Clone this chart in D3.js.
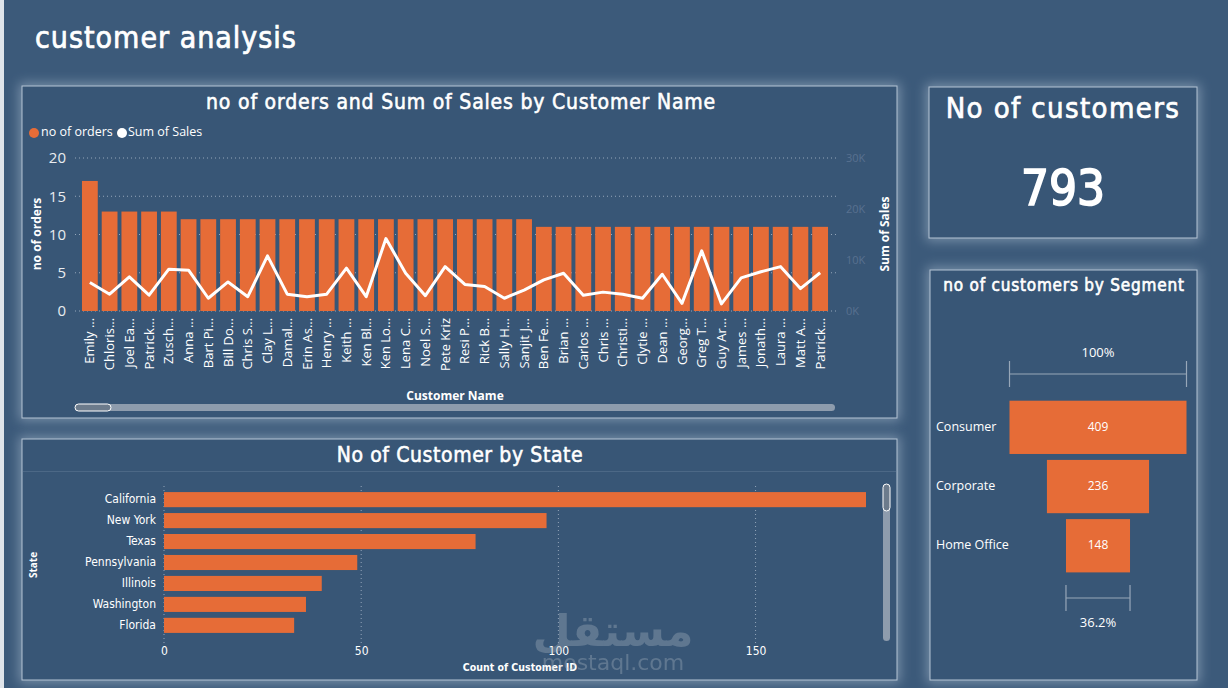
<!DOCTYPE html>
<meta charset="utf-8">
<script src="https://d3js.org/d3.v7.min.js"></script>
<style>
  body { margin: 0; background: #3c5a7a; overflow: hidden; }
</style>
<div id="dashboard"></div>
<script>
// ---- data ----
var customerNames = ["Emily …", "Chloris…", "Joel Ea…", "Patrick…", "Zusch…", "Anna …", "Bart Pi…", "Bill Do…",
  "Chris S…", "Clay L…", "Damal…", "Erin As…", "Henry …", "Keith …", "Ken Bl…", "Ken Lo…", "Lena C…", "Noel S…",
  "Pete Kriz", "Resi P…", "Rick B…", "Sally H…", "Sanjit J…", "Ben Fe…", "Brian …", "Carlos …", "Chris …",
  "Christi…", "Clytie …", "Dean …", "Georg…", "Greg T…", "Guy Ar…", "James …", "Jonath…", "Laura …", "Matt A…", "Patrick…"]
var noOfOrders = [17, 13, 13, 13, 13, 12, 12, 12, 12, 12, 12, 12, 12, 12, 12, 12, 12, 12, 12, 12, 12, 12, 12,
  11, 11, 11, 11, 11, 11, 11, 11, 11, 11, 11, 11, 11, 11, 11]
var sumOfSales = [5600, 3300, 6700, 3100, 8200, 8000, 2500, 5700, 2800, 10800, 3300, 2800, 3300, 8400, 2800, 14200,
  7400, 3000, 8700, 5200, 4800, 2500, 4100, 6100, 7400, 3100, 3700, 3300, 2500, 7200, 1500, 11800, 1400, 6500,
  7700, 8700, 4400, 7500]
var ordersTicks = [0, 5, 10, 15, 20]
var salesTicks = [0, 10000, 20000, 30000]

var states = ["California", "New York", "Texas", "Pennsylvania", "Illinois", "Washington", "Florida"]
var stateCustomers = [178, 97, 79, 49, 40, 36, 33]
var stateTicks = [0, 50, 100, 150]

var segments = ["Consumer", "Corporate", "Home Office"]
var segmentCustomers = [409, 236, 148]
var totalCustomers = 793

// ---- look ----
var orange = "#e66c37"
var panelFill = "#385676"
var border = "#b4c4d4"
var titleFont = "'DejaVu Sans Condensed', 'DejaVu Sans', sans-serif"
var labelFont = "'Open Sans', 'Noto Sans', sans-serif"
var narrowFont = "'Liberation Sans Narrow', 'DejaVu Sans Condensed', sans-serif"

var W = 1228, H = 688
var svg = d3.select("#dashboard").append("svg")
    .attr("width", W).attr("height", H)

var defs = svg.append("defs")
defs.append("filter").attr("id", "glow")
    .attr("x", "-10%").attr("y", "-10%").attr("width", "120%").attr("height", "120%")
  .append("feGaussianBlur").attr("stdDeviation", 6)

svg.append("rect").attr("width", W).attr("height", H).attr("fill", "#3c5a7a")
svg.append("rect").attr("width", 4).attr("height", H).attr("fill", "#dfe4ea")

function panel(x, y, w, h) {
  svg.append("rect").attr("x", x - 3).attr("y", y - 3).attr("width", w + 6).attr("height", h + 6)
      .attr("fill", "#a7bace").attr("opacity", 0.55).attr("filter", "url(#glow)")
  svg.append("rect").attr("x", x).attr("y", y).attr("width", w).attr("height", h)
      .attr("fill", panelFill).attr("stroke", border).attr("stroke-width", 1)
}

// DIN-like medium titles: regular condensed glyphs, a little stroke and spacing
function title(sel, size, spacing, thick) {
  return sel.attr("fill", "#fff").attr("stroke", "#fff").attr("stroke-width", thick)
      .style("font-family", titleFont).style("font-size", size + "px")
      .style("letter-spacing", spacing + "px")
}

title(svg.append("text").attr("x", 35).attr("y", 48).text("customer analysis"), 30, 1, 0.7)

// =========== combo chart: orders + sales ===========
panel(22, 86, 875, 332)
var g1 = svg.append("g")

title(g1.append("text").attr("x", 461).attr("y", 109).attr("text-anchor", "middle")
    .text("no of orders and Sum of Sales by Customer Name"), 21, 0.8, 0.55)

// legend
g1.append("circle").attr("cx", 34).attr("cy", 133).attr("r", 5).attr("fill", orange)
g1.append("text").attr("x", 41).attr("y", 133).text("no of orders").attr("dominant-baseline", "middle")
    .attr("fill", "#fff").style("font-family", labelFont).style("font-size", "12.5px")
g1.append("circle").attr("cx", 122).attr("cy", 133).attr("r", 5).attr("fill", "#fff")
g1.append("text").attr("x", 128).attr("y", 133).text("Sum of Sales").attr("dominant-baseline", "middle")
    .attr("fill", "#fff").style("font-family", labelFont).style("font-size", "12.5px")

var x1 = d3.scaleBand().domain(d3.range(customerNames.length)).range([80, 830])
    .paddingInner(0.2).paddingOuter(0.1)
var yOrders = d3.scaleLinear().domain([0, 20]).range([311, 158])
var ySales = d3.scaleLinear().domain([0, 30000]).range([311, 158])

// gridlines
g1.selectAll(".grid1").data(ordersTicks).enter().append("line")
    .attr("x1", 75).attr("x2", 836)
    .attr("y1", function(d) { return yOrders(d) }).attr("y2", function(d) { return yOrders(d) })
    .attr("stroke", "#94a6ba").attr("stroke-dasharray", "1,3").attr("stroke-width", 1)

// left axis
var leftAxis = g1.append("g").attr("transform", "translate(70,0)")
    .call(d3.axisLeft(yOrders).tickValues(ordersTicks).tickSize(0).tickPadding(4))
leftAxis.select(".domain").remove()
leftAxis.selectAll("text").attr("fill", "#e8ecf0").style("font-family", labelFont).style("font-size", "15px")

// right axis
var rightAxis = g1.append("g").attr("transform", "translate(842,0)")
    .call(d3.axisRight(ySales).tickValues(salesTicks).tickSize(0).tickPadding(4)
      .tickFormat(function(d) { return (d / 1000) + "K" }))
rightAxis.select(".domain").remove()
rightAxis.selectAll("text").attr("fill", "#587190").style("font-family", labelFont).style("font-size", "11px")

// bars
g1.selectAll(".bar1").data(noOfOrders).enter().append("rect")
    .attr("x", function(d, i) { return x1(i) })
    .attr("width", x1.bandwidth())
    .attr("y", function(d) { return yOrders(d) })
    .attr("height", function(d) { return yOrders(0) - yOrders(d) })
    .attr("fill", orange)

// line
var salesLine = d3.line()
    .x(function(d, i) { return x1(i) + x1.bandwidth() / 2 })
    .y(function(d) { return ySales(d) })
g1.append("path").datum(sumOfSales).attr("d", salesLine)
    .attr("fill", "none").attr("stroke", "#fff").attr("stroke-width", 3).attr("stroke-linejoin", "round")

// x axis
var bottomAxis = g1.append("g").attr("transform", "translate(0,314)")
    .call(d3.axisBottom(x1).tickSize(0).tickPadding(0).tickFormat(function(i) { return customerNames[i] }))
bottomAxis.select(".domain").remove()
bottomAxis.selectAll("text")
    .attr("transform", "rotate(-90)").attr("x", -4).attr("y", 0).attr("dy", "0.35em")
    .attr("text-anchor", "end")
    .attr("fill", "#fff").style("font-family", labelFont).style("font-size", "13px")

// axis titles
g1.append("text").attr("transform", "translate(41,234) rotate(-90)").attr("text-anchor", "middle")
    .text("no of orders").attr("fill", "#fff").style("font-family", labelFont)
    .style("font-size", "12px").style("font-weight", "bold")
g1.append("text").attr("transform", "translate(889,234) rotate(-90)").attr("text-anchor", "middle")
    .text("Sum of Sales").attr("fill", "#fff").style("font-family", labelFont)
    .style("font-size", "12px").style("font-weight", "bold")
g1.append("text").attr("x", 455).attr("y", 400).attr("text-anchor", "middle")
    .text("Customer Name").attr("fill", "#fff").style("font-family", labelFont)
    .style("font-size", "12px").style("font-weight", "bold")

// scrollbar
g1.append("rect").attr("x", 75).attr("y", 404).attr("width", 760).attr("height", 7).attr("rx", 3.5)
    .attr("fill", "#8e9cad")
g1.append("rect").attr("x", 75).attr("y", 404).attr("width", 36).attr("height", 7).attr("rx", 3.5)
    .attr("fill", "#6c7b8c").attr("stroke", "#fff").attr("stroke-width", 1)

// =========== state chart ===========
panel(22, 439, 875, 241)
var g2 = svg.append("g")
title(g2.append("text").attr("x", 460).attr("y", 462).attr("text-anchor", "middle")
    .text("No of Customer by State"), 21, 0.6, 0.55)
g2.append("line").attr("x1", 23).attr("x2", 896).attr("y1", 471.5).attr("y2", 471.5)
    .attr("stroke", "#4c6886")

var x2 = d3.scaleLinear().domain([0, 178]).range([164, 866])
var y2 = d3.scaleBand().domain(states).range([490, 635]).paddingInner(0.28).paddingOuter(0.1)

g2.selectAll(".grid2").data(stateTicks).enter().append("line")
    .attr("x1", function(d) { return x2(d) }).attr("x2", function(d) { return x2(d) })
    .attr("y1", 486).attr("y2", 643)
    .attr("stroke", "#94a6ba").attr("stroke-dasharray", "1,3")

g2.selectAll(".bar2").data(stateCustomers).enter().append("rect")
    .attr("x", x2(0))
    .attr("y", function(d, i) { return y2(states[i]) })
    .attr("width", function(d) { return x2(d) - x2(0) })
    .attr("height", y2.bandwidth())
    .attr("fill", orange)

var stateAxis = g2.append("g").attr("transform", "translate(160,0)")
    .call(d3.axisLeft(y2).tickSize(0).tickPadding(4))
stateAxis.select(".domain").remove()
stateAxis.selectAll("text").attr("fill", "#fff").style("font-family", narrowFont).style("font-size", "12px")

var countAxis = g2.append("g").attr("transform", "translate(0,646)")
    .call(d3.axisBottom(x2).tickValues(stateTicks).tickSize(0).tickPadding(0))
countAxis.select(".domain").remove()
countAxis.selectAll("text").attr("fill", "#fff").style("font-family", narrowFont).style("font-size", "12px")

g2.append("text").attr("x", 520).attr("y", 671).attr("text-anchor", "middle")
    .text("Count of Customer ID").attr("fill", "#fff").style("font-family", narrowFont)
    .style("font-size", "10.5px").style("font-weight", "bold")
g2.append("text").attr("transform", "translate(37,565) rotate(-90)").attr("text-anchor", "middle")
    .text("State").attr("fill", "#fff").style("font-family", labelFont)
    .style("font-size", "10px").style("font-weight", "bold")

g2.append("rect").attr("x", 883).attr("y", 484).attr("width", 7).attr("height", 157).attr("rx", 3.5)
    .attr("fill", "#8e9cad")
g2.append("rect").attr("x", 883).attr("y", 484).attr("width", 7).attr("height", 27).attr("rx", 3.5)
    .attr("fill", "#6c7b8c").attr("stroke", "#fff").attr("stroke-width", 1)

// watermark
g2.append("text").attr("x", 613).attr("y", 646).attr("text-anchor", "middle").text("مستقل")
    .attr("fill", "#a8b4c0").attr("opacity", 0.35).style("font-family", "'DejaVu Sans', sans-serif")
    .style("font-size", "44px").style("font-weight", "bold")
g2.append("text").attr("x", 613).attr("y", 670).attr("text-anchor", "middle").text("mostaql.com")
    .attr("fill", "#a8b4c0").attr("opacity", 0.35).style("font-family", "'DejaVu Sans', sans-serif")
    .style("font-size", "22px")

// =========== KPI card ===========
panel(929, 87, 268, 151)
title(svg.append("text").attr("x", 1063).attr("y", 118).attr("text-anchor", "middle")
    .text("No of customers"), 29, 1.4, 0.7)
title(svg.append("text").attr("x", 1063).attr("y", 205).attr("text-anchor", "middle")
    .text(d3.format("d")(totalCustomers)), 49, 0, 1.6)

// =========== funnel ===========
panel(930, 270, 267, 410)
var g3 = svg.append("g")
title(g3.append("text").attr("x", 1064).attr("y", 291).attr("text-anchor", "middle")
    .text("no of customers by Segment"), 17, 0.8, 0.6)

var cx = 1098
var wSeg = d3.scaleLinear().domain([0, d3.max(segmentCustomers)]).range([0, 177])
var ySeg = d3.scaleBand().domain(segments).range([400.7, 572.4]).paddingInner(0.1)

g3.selectAll(".seg").data(segmentCustomers).enter().append("rect")
    .attr("x", function(d) { return cx - wSeg(d) / 2 })
    .attr("width", function(d) { return wSeg(d) })
    .attr("y", function(d, i) { return ySeg(segments[i]) })
    .attr("height", ySeg.bandwidth())
    .attr("fill", orange)
g3.selectAll(".segVal").data(segmentCustomers).enter().append("text")
    .attr("x", cx)
    .attr("y", function(d, i) { return ySeg(segments[i]) + ySeg.bandwidth() / 2 })
    .attr("text-anchor", "middle").attr("dominant-baseline", "middle")
    .text(function(d) { return d })
    .attr("fill", "#fff").style("font-family", labelFont).style("font-size", "12px")
g3.selectAll(".segLab").data(segments).enter().append("text")
    .attr("x", 936)
    .attr("y", function(d) { return ySeg(d) + ySeg.bandwidth() / 2 })
    .attr("dominant-baseline", "middle")
    .text(function(d) { return d })
    .attr("fill", "#fff").style("font-family", labelFont).style("font-size", "12.5px")

function bracket(value, y, labelY, label) {
  var half = wSeg(value) / 2
  var b = g3.append("g").attr("stroke", "#97a7b8").attr("stroke-width", 1.2)
  b.append("line").attr("x1", cx - half).attr("x2", cx + half).attr("y1", y).attr("y2", y)
  b.append("line").attr("x1", cx - half).attr("x2", cx - half).attr("y1", y - 13).attr("y2", y + 13)
  b.append("line").attr("x1", cx + half).attr("x2", cx + half).attr("y1", y - 13).attr("y2", y + 13)
  g3.append("text").attr("x", cx).attr("y", labelY).attr("text-anchor", "middle").text(label)
    .attr("fill", "#fff").style("font-family", labelFont).style("font-size", "13px")
}
var first = segmentCustomers[0], last = segmentCustomers[segmentCustomers.length - 1]
bracket(first, 374, 357, "100%")
bracket(last, 598, 627, d3.format(".1%")(last / first))
</script>
